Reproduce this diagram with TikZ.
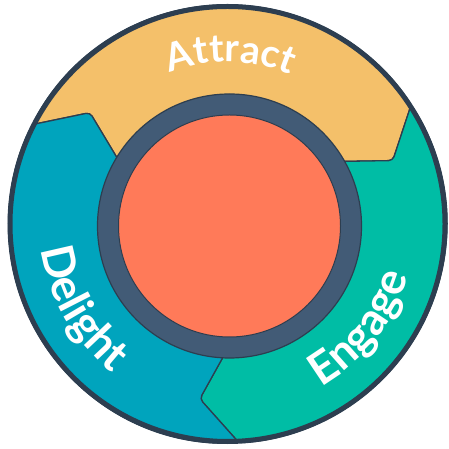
\documentclass[tikz,border=0pt]{standalone}
\usepackage{fontspec}
\setmainfont{Lato}
\usetikzlibrary{decorations.text}
\definecolor{cyel}{HTML}{F4C06A}
\definecolor{cteal}{HTML}{00BDA5}
\definecolor{cblue}{HTML}{00A4BD}
\definecolor{corange}{HTML}{FF7A59}
\definecolor{cring}{HTML}{425B76}
\definecolor{coutl}{HTML}{2D3E50}
\tikzset{
  seg/.style={draw=coutl, line width=1.3bp, rounded corners=4bp},
  lbl/.style 2 args={decorate, decoration={text along path, text align=center,
     text={|\fontsize{#1}{#1}\selectfont\bfseries\color{white}|#2}}}
}
\begin{document}
\begin{tikzpicture}[x=1bp,y=1bp]
\useasboundingbox (0,0) rectangle (449,449);
\begin{scope}[shift={(227.5,225)}]
  % Attract (yellow)
  \path[seg, fill=cyel] (153:219) arc[start angle=153, end angle=33, radius=219]
     -- (21:177) -- (30:125) arc[start angle=30, end angle=150, radius=125]
     -- (141:177) -- cycle;
  % Engage (teal)
  \path[seg, fill=cteal] (33:219) arc[start angle=33, end angle=-87, radius=219]
     -- (-99:177) -- (-90:125) arc[start angle=-90, end angle=30, radius=125]
     -- (21:177) -- cycle;
  % Delight (blue)
  \path[seg, fill=cblue] (-87:219) arc[start angle=-87, end angle=-207, radius=219]
     -- (141:177) -- (150:125) arc[start angle=150, end angle=270, radius=125]
     -- (261:177) -- cycle;
  % outer border
  \draw[coutl, line width=5bp] (0,0) circle[radius=217.5];
  % hub
  \draw[coutl, fill=cring, line width=1.2bp] (2,-2) circle[radius=132];
  \draw[coutl, fill=corange, line width=1bp] (2,-2) circle[radius=111];
  % labels
  \path[lbl={39}{Attract}] (150:162) arc[start angle=150, end angle=28, radius=162];
  \path[lbl={45}{Delight}] (161:188) arc[start angle=161, end angle=259, radius=188];
  \path[lbl={45}{Engage}] (-87:188) arc[start angle=-87, end angle=11, radius=188];
\end{scope}
\end{tikzpicture}
\end{document}
